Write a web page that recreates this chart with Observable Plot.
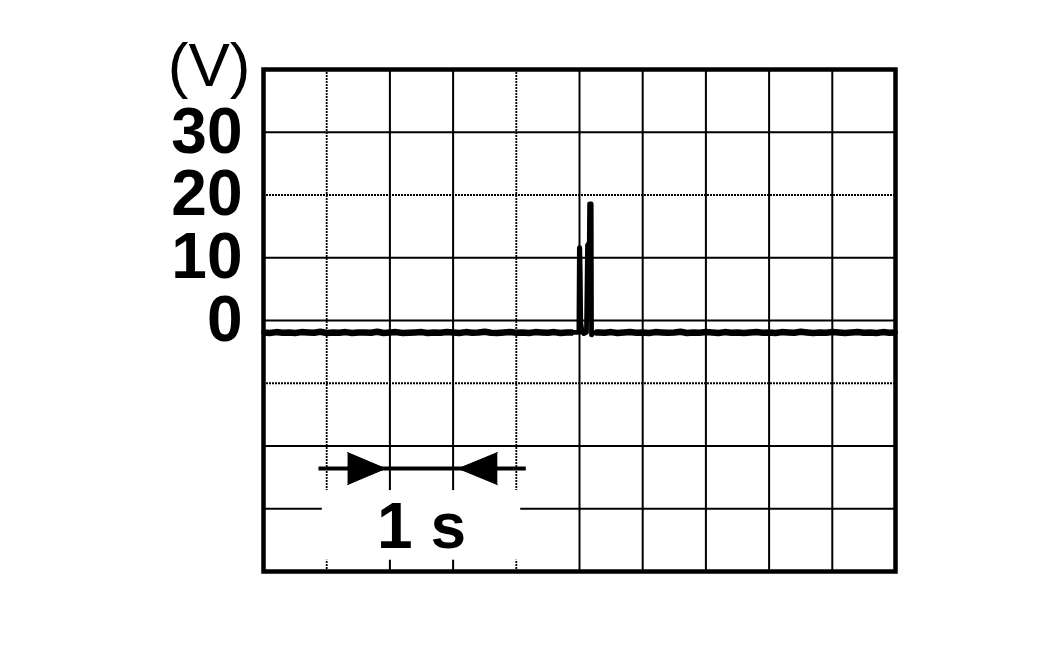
<!DOCTYPE html>
<html><head><meta charset="utf-8">
<script src="https://cdn.jsdelivr.net/npm/d3@7"></script>
<script src="https://cdn.jsdelivr.net/npm/@observablehq/plot@0.6"></script>
<style>body{margin:0;background:#fff} #chart svg{display:block}</style>
</head><body><div id="chart"></div>
<script>
// ---- data ----
const unitLabel = "(V)";
const scaleLabel = "1 s";
const voltTicks = [0, 10, 20, 30];
const gridSolidX = [2, 3, 5, 6, 7, 8, 9];
const gridDottedX = [1, 4];
const gridSolidY = [30, 10, 0, -20, -30];
const gridDottedY = [20, -10];

// time (s) and voltage (V) of the recorded trace
const traceT = [
  0.0,0.1,0.2,0.3,0.4,0.5,0.6,0.7,0.8,0.9,
  1.0,1.1,1.2,1.3,1.4,1.5,1.6,1.7,1.8,1.9,
  2.0,2.1,2.2,2.3,2.4,2.5,2.6,2.7,2.8,2.9,
  3.0,3.1,3.2,3.3,3.4,3.5,3.6,3.7,3.8,3.9,
  4.0,4.1,4.2,4.3,4.4,4.5,4.6,4.7,4.8,4.9,
  4.99,4.998,5.004,5.012,5.02,5.04,5.07,5.11,5.127,5.155,5.16,5.185,5.19,5.22,5.25,
  5.3,5.4,5.5,5.6,5.7,5.8,5.9,6.0,6.1,6.2,
  6.3,6.4,6.5,6.6,6.7,6.8,6.9,7.0,7.1,7.2,
  7.3,7.4,7.5,7.6,7.7,7.8,7.9,8.0,8.1,8.2,
  8.3,8.4,8.5,8.6,8.7,8.8,8.9,9.0,9.1,9.2,
  9.3,9.4,9.5,9.6,9.7,9.8,9.9,10.0
];
const traceV = [
  -1.9,-2.0,-1.85,-1.95,-1.9,-2.0,-1.85,-1.9,-1.95,-1.8,
  -2.0,-1.9,-1.95,-1.85,-2.0,-1.9,-1.9,-1.95,-1.8,-2.0,
  -1.9,-1.85,-2.0,-1.95,-1.9,-1.85,-2.0,-1.9,-1.95,-1.85,
  -1.9,-2.0,-1.85,-1.95,-1.9,-1.8,-1.95,-2.0,-1.9,-1.85,
  -1.95,-1.9,-2.0,-1.85,-1.9,-1.95,-1.85,-2.0,-1.9,-1.9,
  -1.9,11.6,11.6,7.6,-0.3,-1.8,-2.1,-1.9,12.0,12.4,18.6,18.6,-2.3,-2.0,-1.9,
  -1.9,-1.95,-1.85,-2.0,-1.9,-1.85,-1.95,-1.9,-2.0,-1.85,
  -1.9,-1.95,-1.9,-1.8,-2.0,-1.9,-1.95,-1.85,-1.9,-2.0,
  -1.85,-1.95,-1.9,-2.0,-1.9,-1.85,-1.95,-1.9,-2.0,-1.85,
  -1.9,-1.95,-1.8,-1.9,-2.0,-1.9,-1.95,-1.85,-1.9,-2.0,
  -1.9,-1.85,-1.95,-1.9,-2.0,-1.85,-1.95,-1.9
];
// time window of the two pulses
const pulseWindow = [4.95, 5.24];

// "1 s" span annotation (in time / voltage units)
const spanShaft = [[0.87, -23.6], [4.15, -23.6]];
const spanHeadRight = [[1.33, -21.05], [1.93, -23.6], [1.33, -26.15]];
const spanHeadLeft = [[3.70, -21.05], [3.085, -23.6], [3.70, -26.15]];
const spanLabelBox = [{x1: 0.93, x2: 4.07, y1: -38.2, y2: -27.1}];

// ---- build ----
const trace = traceT.map((t, i) => ({t, v: traceV[i]}));
const inPulse = d => d.t > pulseWindow[0] && d.t < pulseWindow[1];

const chart = Plot.plot({
  width: 1063,
  height: 661,
  marginLeft: 263,
  marginRight: 168,
  marginTop: 69,
  marginBottom: 90,
  x: {domain: [0, 10], axis: null},
  y: {domain: [-40, 40], axis: null},
  style: {fontFamily: "'Liberation Sans', Arial, Helvetica, sans-serif", background: "white", color: "black"},
  marks: [
    Plot.ruleX(gridSolidX, {stroke: "black", strokeWidth: 2}),
    Plot.ruleX(gridDottedX, {stroke: "black", strokeWidth: 1.8, strokeDasharray: "2,1"}),
    Plot.ruleY(gridSolidY, {stroke: "black", strokeWidth: 2}),
    Plot.ruleY(gridDottedY, {stroke: "black", strokeWidth: 1.8, strokeDasharray: "2,1"}),
    Plot.rect(spanLabelBox, {x1: "x1", x2: "x2", y1: "y1", y2: "y2", fill: "white"}),
    Plot.line(trace, {x: "t", y: "v", stroke: "black", strokeWidth: 4.8}),
    Plot.line(trace, {x: "t", y: d => inPulse(d) ? NaN : d.v, stroke: "black", strokeWidth: 6.5, strokeLinejoin: "miter", strokeLinecap: "butt"}),
    Plot.line(spanShaft, {x: d => d[0], y: d => d[1], stroke: "black", strokeWidth: 4, strokeLinecap: "butt"}),
    Plot.line(spanHeadRight, {x: d => d[0], y: d => d[1], fill: "black", stroke: "black", strokeWidth: 1}),
    Plot.line(spanHeadLeft, {x: d => d[0], y: d => d[1], fill: "black", stroke: "black", strokeWidth: 1}),
    Plot.text([scaleLabel], {x: 2.5, y: -36.3, text: d => d, fontSize: 64, fontWeight: "bold", lineAnchor: "bottom"}),
    Plot.text([unitLabel], {x: -0.206, y: 37.45, text: d => d, fontSize: 62, fontWeight: "normal", textAnchor: "end", lineAnchor: "bottom"}),
    Plot.frame({stroke: "black", strokeWidth: 4.5}),
    Plot.axisY(voltTicks, {tickSize: 0, tickPadding: 21, fontSize: 64, fontWeight: "bold", label: null})
  ]
});
document.getElementById("chart").appendChild(chart);
</script>
</body></html>
